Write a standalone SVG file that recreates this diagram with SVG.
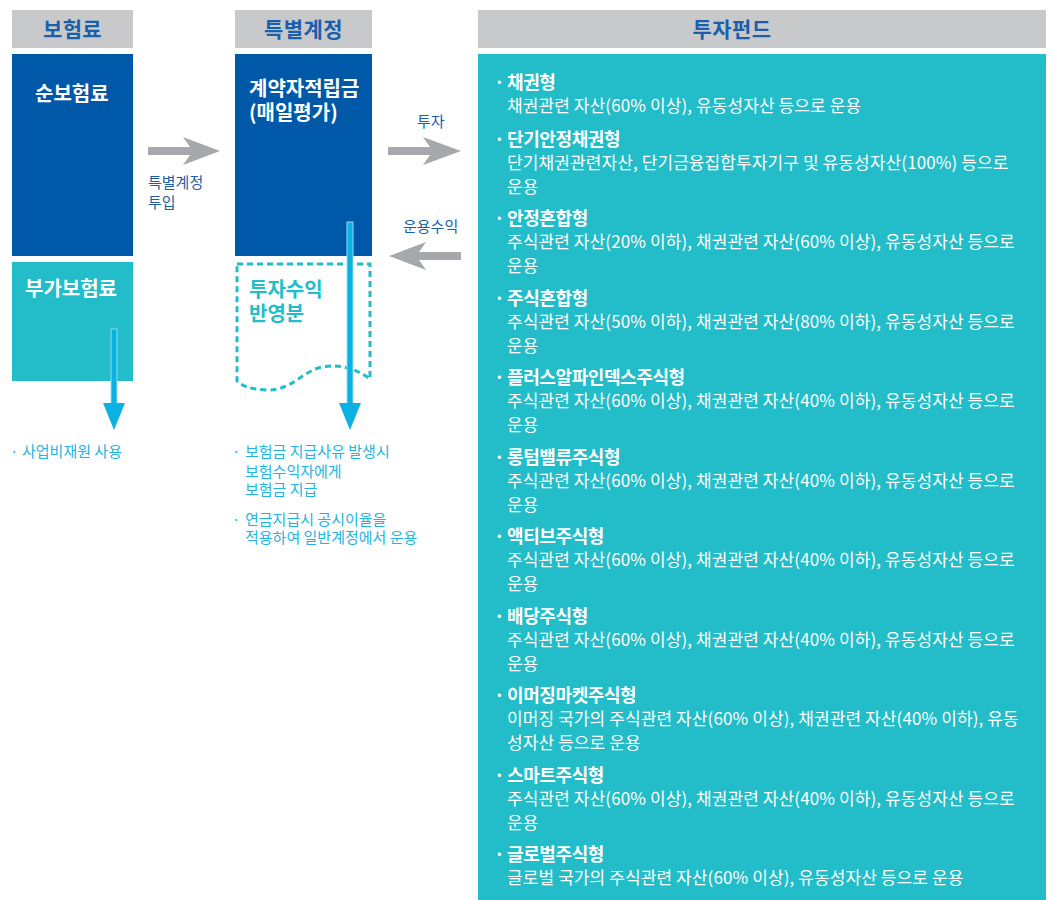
<svg xmlns="http://www.w3.org/2000/svg" width="1053" height="900" viewBox="0 0 1053 900">
<style>
text{font-family:"Noto Sans CJK KR","Noto Sans",sans-serif}
.hd{fill:#c8c9cb}
.ht{font-size:21px;font-weight:700;fill:#1b5eab;text-anchor:middle;letter-spacing:0.4px}
.wt{font-size:20px;font-weight:700;fill:#fff}
.tt{font-size:20px;font-weight:700;fill:#22bdc8}
.lb{font-size:15px;fill:#1b5eab}
.cy{font-size:15px;fill:#1fb4e2}
.ft{font-size:18px;font-weight:700;fill:#fff;letter-spacing:-0.4px}
.fd{font-size:17px;fill:#fff;letter-spacing:0.1px}
.ga{fill:#a7a8ab}
.da{fill:#0bb1e3}
</style>
<rect width="1053" height="900" fill="#fff"/>
<g id="premium">
<rect class="hd" x="12" y="10" width="121" height="38"/>
<text class="ht" x="72.5" y="37">보험료</text>
</g>
<g id="net-premium">
<rect x="12" y="54" width="121" height="202" fill="#0058a8"/>
<text class="wt" x="35" y="101">순보험료</text>
</g>
<g id="loading-premium">
<rect x="12" y="262" width="121" height="119" fill="#22bdc8"/>
<text class="wt" x="25" y="296">부가보험료</text>
</g>
<g id="special-account">
<rect class="hd" x="235" y="10" width="137" height="38"/>
<text class="ht" x="303.5" y="37">특별계정</text>
</g>
<g id="reserve">
<rect x="235" y="54" width="137" height="202" fill="#0058a8"/>
<text class="wt" x="249" y="96">계약자적립금</text>
<text class="wt" x="249" y="120">(매일평가)</text>
</g>
<g id="investment-return">
<path d="M237,264 H370 V379 C355,368 340,364 322,367 C302,371 292,391 266,390 C250,389 242,386 237,381 Z" fill="none" stroke="#22bdc8" stroke-width="3" stroke-dasharray="6,4"/>
<text class="tt" x="249" y="297">투자수익</text>
<text class="tt" x="249" y="321">반영분</text>
</g>
<g id="fund">
<rect class="hd" x="478" y="10" width="568" height="38"/>
<text class="ht" x="732" y="37">투자펀드</text>
<rect x="478" y="54" width="568" height="846" fill="#22bdc8"/>
<g>
<text class="ft" x="494" y="89">·</text><text class="ft" x="507" y="89">채권형</text>
<text class="fd" x="507" y="112">채권관련 자산(60% 이상), 유동성자산 등으로 운용</text>
<text class="ft" x="494" y="146">·</text><text class="ft" x="507" y="146">단기안정채권형</text>
<text class="fd" x="507" y="169">단기채권관련자산, 단기금융집합투자기구 및 유동성자산(100%) 등으로</text>
<text class="fd" x="507" y="193">운용</text>
<text class="ft" x="494" y="225">·</text><text class="ft" x="507" y="225">안정혼합형</text>
<text class="fd" x="507" y="248">주식관련 자산(20% 이하), 채권관련 자산(60% 이상), 유동성자산 등으로</text>
<text class="fd" x="507" y="272">운용</text>
<text class="ft" x="494" y="305">·</text><text class="ft" x="507" y="305">주식혼합형</text>
<text class="fd" x="507" y="328">주식관련 자산(50% 이하), 채권관련 자산(80% 이하), 유동성자산 등으로</text>
<text class="fd" x="507" y="352">운용</text>
<text class="ft" x="494" y="384">·</text><text class="ft" x="507" y="384">플러스알파인덱스주식형</text>
<text class="fd" x="507" y="407">주식관련 자산(60% 이상), 채권관련 자산(40% 이하), 유동성자산 등으로</text>
<text class="fd" x="507" y="431">운용</text>
<text class="ft" x="494" y="464">·</text><text class="ft" x="507" y="464">롱텀밸류주식형</text>
<text class="fd" x="507" y="487">주식관련 자산(60% 이상), 채권관련 자산(40% 이하), 유동성자산 등으로</text>
<text class="fd" x="507" y="511">운용</text>
<text class="ft" x="494" y="543">·</text><text class="ft" x="507" y="543">액티브주식형</text>
<text class="fd" x="507" y="566">주식관련 자산(60% 이상), 채권관련 자산(40% 이하), 유동성자산 등으로</text>
<text class="fd" x="507" y="590">운용</text>
<text class="ft" x="494" y="623">·</text><text class="ft" x="507" y="623">배당주식형</text>
<text class="fd" x="507" y="646">주식관련 자산(60% 이상), 채권관련 자산(40% 이하), 유동성자산 등으로</text>
<text class="fd" x="507" y="670">운용</text>
<text class="ft" x="494" y="702">·</text><text class="ft" x="507" y="702">이머징마켓주식형</text>
<text class="fd" x="507" y="725">이머징 국가의 주식관련 자산(60% 이상), 채권관련 자산(40% 이하), 유동</text>
<text class="fd" x="507" y="749">성자산 등으로 운용</text>
<text class="ft" x="494" y="782">·</text><text class="ft" x="507" y="782">스마트주식형</text>
<text class="fd" x="507" y="805">주식관련 자산(60% 이상), 채권관련 자산(40% 이하), 유동성자산 등으로</text>
<text class="fd" x="507" y="829">운용</text>
<text class="ft" x="494" y="861">·</text><text class="ft" x="507" y="861">글로벌주식형</text>
<text class="fd" x="507" y="884">글로벌 국가의 주식관련 자산(60% 이상), 유동성자산 등으로 운용</text>
</g>
</g>
<g id="connectors">
<polygon class="ga" points="148,147 190,147 183,137 220,151 183,165 190,155 148,155"/>
<polygon class="ga" points="388,147 430,147 423,137 461,151 423,165 430,155 388,155"/>
<polygon class="ga" points="461,252 419,252 426,242 389,256 426,270 419,260 461,260"/>
<rect class="da" x="111" y="329" width="6" height="76" stroke="#8fdcf2" stroke-width="1"/>
<polygon class="da" points="103,403 125,403 114,430"/>
<rect class="da" x="347" y="222" width="6" height="183" stroke="#8fdcf2" stroke-width="1"/>
<polygon class="da" points="339,403 361,403 350,430"/>
</g>
<g id="labels">
<text class="lb" x="148" y="188">특별계정</text>
<text class="lb" x="148" y="208">투입</text>
<text class="lb" x="417" y="127">투자</text>
<text class="lb" x="403" y="232">운용수익</text>
<text class="cy" x="10" y="457">·</text><text class="cy" x="22" y="457">사업비재원 사용</text>
<text class="cy" x="232" y="457">·</text><text class="cy" x="245" y="457">보험금 지급사유 발생시</text>
<text class="cy" x="245" y="477">보험수익자에게</text>
<text class="cy" x="245" y="495">보험금 지급</text>
<text class="cy" x="232" y="525">·</text><text class="cy" x="245" y="525">연금지급시 공시이율을</text>
<text class="cy" x="245" y="543">적용하여 일반계정에서 운용</text>
</g>
</svg>
